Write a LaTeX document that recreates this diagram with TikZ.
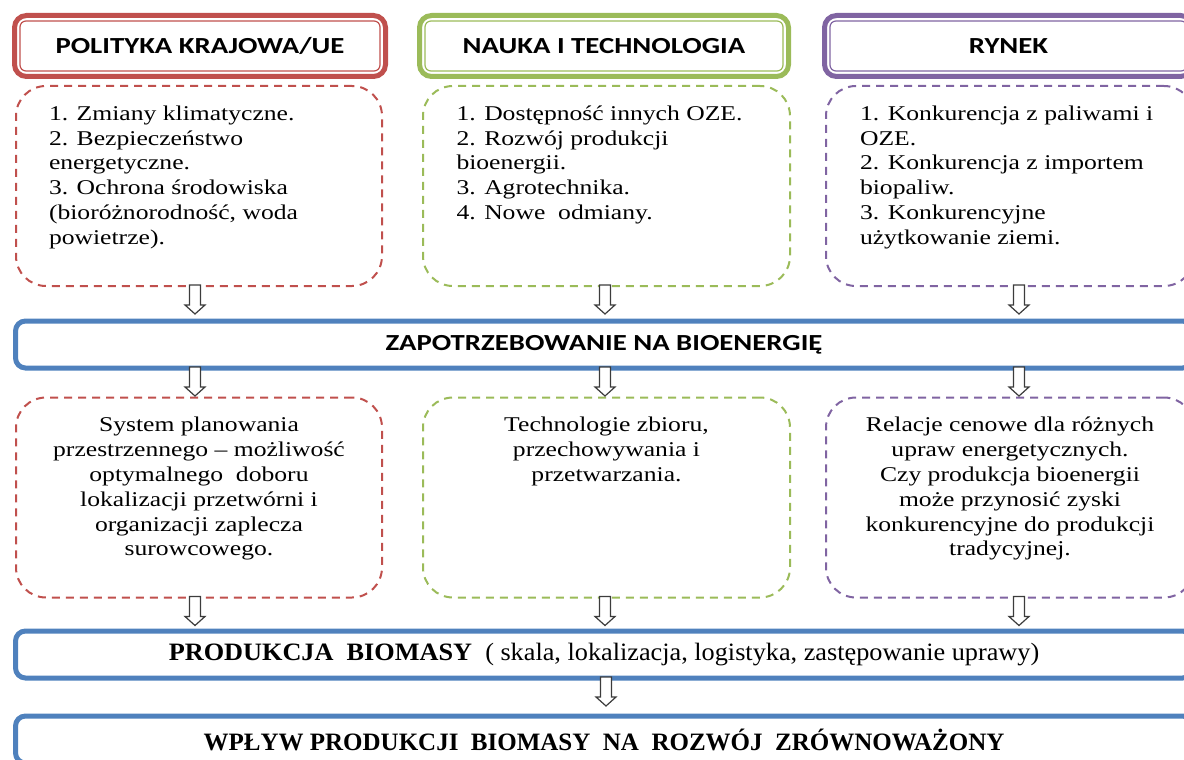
\documentclass[tikz,border=0pt]{standalone}
\usepackage{fontspec}
\setmainfont[FakeStretch=1.22]{Liberation Serif}
\newfontfamily\hdrfont[FakeStretch=1.25]{Carlito}
\newfontfamily\plainserif{Liberation Serif}
\newfontfamily\prodserif[FakeStretch=1.05]{Liberation Serif}
\usetikzlibrary{calc}
\definecolor{bpRed}{RGB}{192,80,77}
\definecolor{bpGreen}{RGB}{155,187,89}
\definecolor{bpPurple}{RGB}{128,100,162}
\definecolor{bpBlue}{RGB}{79,129,189}
\definecolor{bpGray}{RGB}{60,60,60}

% text blocks of the dashed boxes (top aligned)
\newcommand{\toplist}[1]{\parbox[c][166pt][t]{300pt}{\fontsize{21}{24.8}\selectfont\begin{tabular}[t]{@{}l@{}}#1\end{tabular}}}
\newcommand{\midlist}[1]{\parbox[c][166pt][t]{340pt}{\centering\fontsize{21}{24.8}\selectfont\begin{tabular}[t]{@{}c@{}}#1\end{tabular}}}
% hollow block arrow under a node: x position, node above
\newcommand{\blockarr}[2]{%
  \draw[harrow] let \p1=(#2.south) in
    (#1-5.5pt,\y1+1pt) -- (#1+5.5pt,\y1+1pt) -- (#1+5.5pt,\y1-19pt) -- (#1+10pt,\y1-19pt)
    -- (#1,\y1-28pt) -- (#1-10pt,\y1-19pt) -- (#1-5.5pt,\y1-19pt) -- cycle;}

\begin{document}
\begin{tikzpicture}[x=1pt, y=-1pt,
  hdrbox/.style={draw=#1, line width=5pt, rounded corners=12pt, outer sep=0pt, minimum height=61pt,
    inner sep=0pt, font=\hdrfont\bfseries\fontsize{23}{27}\selectfont},
  dashbox/.style={draw=#1, line width=2pt, dash pattern=on 8pt off 6pt, rounded corners=30pt,
    outer sep=0pt, inner sep=0pt, minimum height=200pt},
  bluebox/.style={draw=bpBlue, line width=5pt, rounded corners=10pt, outer sep=0pt, inner sep=0pt,
    minimum width=1177pt, minimum height=47pt},
  harrow/.style={draw=bpGray, line width=1.2pt, fill=white, line join=miter}]
  \useasboundingbox (0,0) rectangle (1184,760);
  \clip (0,0) rectangle (1184,760);

  % Headers
  \node[hdrbox=bpRed, minimum width=371pt] (hpol) at (200,46) {POLITYKA KRAJOWA/UE};
  \node[hdrbox=bpGreen, minimum width=369pt] (hnau) at (604,46) {NAUKA I TECHNOLOGIA};
  \node[hdrbox=bpPurple, minimum width=368pt] (hryn) at (1008.5,46) {RYNEK};
  \foreach \h/\c in {hpol/bpRed, hnau/bpGreen, hryn/bpPurple}
    \draw[\c, line width=1.2pt, rounded corners=6pt]
      ([shift={(5.5pt,-5.5pt)}]\h.north west) rectangle ([shift={(-5.5pt,5.5pt)}]\h.south east);

  % Factors
  \node[dashbox=bpRed, minimum width=366pt] (fpol) at (199,186) {\toplist{%
    1. Zmiany klimatyczne.\\ 2. Bezpieczeństwo\\ energetyczne.\\ 3. Ochrona środowiska\\
    (bioróżnorodność, woda\\ powietrze).}};
  \node[dashbox=bpGreen, minimum width=367pt] (fnau) at (606.5,186) {\toplist{%
    1. Dostępność innych OZE.\\ 2. Rozwój produkcji\\ bioenergii.\\ 3. Agrotechnika.\\ 4. Nowe\ \ odmiany.}};
  \node[dashbox=bpPurple, minimum width=368pt] (fryn) at (1010,186) {\toplist{%
    1. Konkurencja z paliwami i\\ OZE.\\ 2. Konkurencja z importem\\ biopaliw.\\ 3. Konkurencyjne\\
    użytkowanie ziemi.}};

  % Demand
  \node[bluebox] (zap) at (604,344.5) {\hdrfont\bfseries\fontsize{23}{27}\selectfont ZAPOTRZEBOWANIE NA BIOENERGIĘ};

  % Conditions
  \node[dashbox=bpRed, minimum width=366pt] (wpol) at (199,497.5) {\midlist{%
    System planowania\\ przestrzennego -- możliwość\\ optymalnego\ \ doboru\\ lokalizacji przetwórni i\\
    organizacji zaplecza\\ surowcowego.}};
  \node[dashbox=bpGreen, minimum width=367pt] (wnau) at (606.5,497.5) {\midlist{%
    Technologie zbioru,\\ przechowywania i\\ przetwarzania.}};
  \node[dashbox=bpPurple, minimum width=368pt] (wryn) at (1010,497.5) {\midlist{%
    Relacje cenowe dla różnych\\ upraw energetycznych.\\ Czy produkcja bioenergii\\ może przynosić zyski\\
    konkurencyjne do produkcji\\ tradycyjnej.}};

  % Production and impact
  \node[bluebox] (prod) at (604,654.5) {\prodserif\fontsize{25}{29}\selectfont
    \textbf{PRODUKCJA\ \ BIOMASY}\ \ ( skala, lokalizacja, logistyka, zastępowanie uprawy)};
  \node[bluebox] (wpl) at (604,739.5) {\plainserif\bfseries\fontsize{25}{29}\selectfont
    WPŁYW PRODUKCJI\ \ BIOMASY\ \ NA\ \ ROZWÓJ\ \ ZRÓWNOWAŻONY};

  % Arrows
  \blockarr{195pt}{fpol} \blockarr{605pt}{fnau} \blockarr{1019pt}{fryn}
  \blockarr{195pt}{zap} \blockarr{605pt}{zap} \blockarr{1019pt}{zap}
  \blockarr{195pt}{wpol} \blockarr{605pt}{wnau} \blockarr{1019pt}{wryn}
  \blockarr{606pt}{prod}
\end{tikzpicture}
\end{document}
